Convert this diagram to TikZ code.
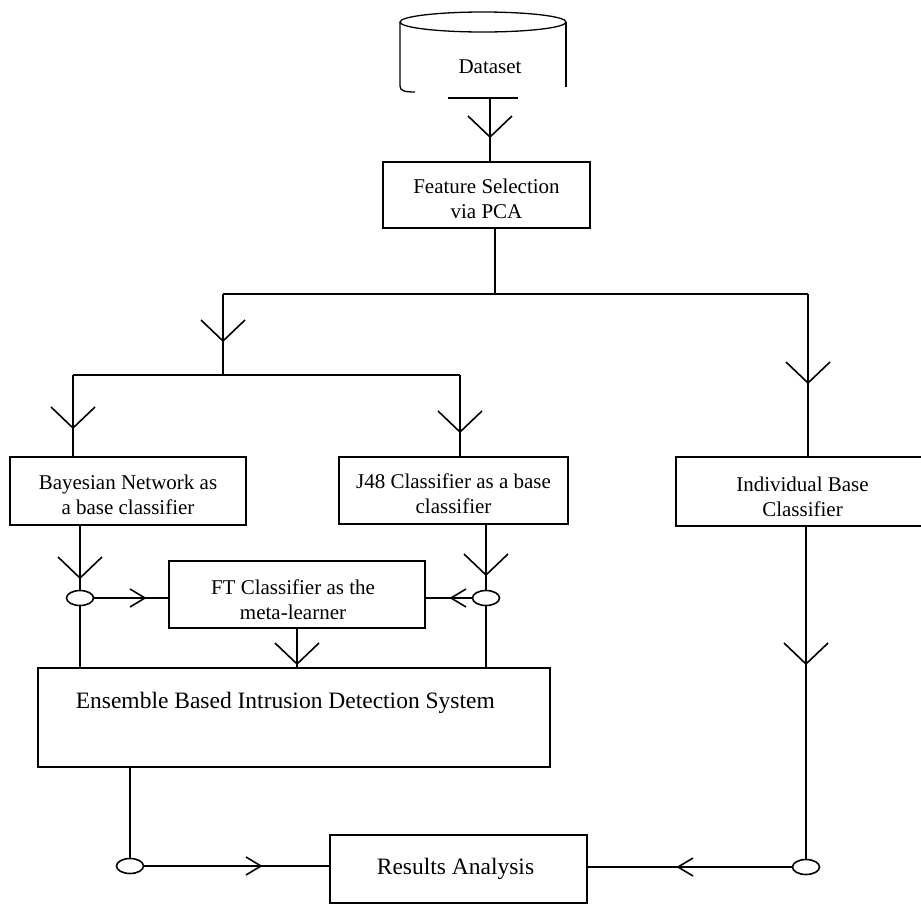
\documentclass[tikz,border=0pt]{standalone}
\usepackage{fontspec}
\setmainfont{Liberation Serif}
\usetikzlibrary{shapes.geometric}
\tikzset{
  box/.style={draw, rectangle, inner sep=0pt},
  txt/.style={inner sep=0pt, align=center, font=\fontsize{21}{25}\selectfont, yshift=-4pt},
  bigtxt/.style={inner sep=0pt, font=\fontsize{23.5}{28}\selectfont},
  oval/.style={draw, ellipse, minimum width=27pt, minimum height=15pt, inner sep=0pt},
  vdown/.pic={\draw (-22,-21) -- (0,0) -- (22,-21);},
  vright/.pic={\draw (-15,-9) -- (0,0) -- (-15,9);},
  vleft/.pic={\draw (15,-9) -- (0,0) -- (15,9);}
}
\begin{document}
\begin{tikzpicture}[x=1pt,y=-1pt,line width=1.6pt]
\useasboundingbox (0,0) rectangle (921,903);

% Dataset cylinder
\draw[line width=1.3pt] (483,22) ellipse [x radius=83, y radius=10];
\draw[line width=1.3pt] (400,22) -- (400,86) .. controls (400,91) and (405,92) .. (415,92);
\draw[line width=1.3pt] (566,22) -- (566,87);
\draw[line width=1.3pt] (448,98) -- (518,98);
\node[inner sep=0pt, font=\fontsize{21}{25}\selectfont] (ds) at (490,67) {Dataset};
\coordinate (dsb) at (490,98);

% boxes
\node[box, minimum width=207pt, minimum height=66pt, label={[txt]center:{Feature Selection\\via PCA}}] (fs) at (486.5,195) {};
\node[box, minimum width=236pt, minimum height=68pt, label={[txt]center:{Bayesian Network as\\a base classifier}}] (bn) at (128,491) {};
\node[box, minimum width=229pt, minimum height=67pt, label={[txt, yshift=1pt]center:{J48 Classifier as a base\\classifier}}] (j48) at (453.5,490.5) {};
\node[box, minimum width=259pt, minimum height=69pt, label={[txt, xshift=-3pt, yshift=-1pt]center:{Individual Base\\Classifier}}] (ind) at (805.5,491.5) {};
\node[box, minimum width=256pt, minimum height=67pt, label={[txt, xshift=-4pt, yshift=-1pt]center:{FT Classifier as the\\meta-learner}}] (ft) at (297,594.5) {};
\node[box, minimum width=512pt, minimum height=99pt] (ens) at (294,717.5) {};
\node[bigtxt, anchor=west] (enst) at (75,703) {Ensemble Based Intrusion Detection System};
\node[box, minimum width=257pt, minimum height=68pt, label={[bigtxt, xshift=-3pt]center:Results Analysis}] (res) at (458.5,869) {};

% junction ovals
\node[oval] (o1) at (80,598) {};
\node[oval] (o2) at (486,598) {};
\node[oval] (o3) at (130,866) {};
\node[oval] (o4) at (806,867) {};

% branching coordinates
\coordinate (j1) at (495,294);
\coordinate (L1) at (223,294);
\coordinate (R1) at (808,294);
\coordinate (L2) at (223,375);
\coordinate (L3) at (73,375);
\coordinate (R3) at (460,375);

% connectors
\draw (dsb) -- (dsb |- fs.north);
\pic at (490,137) {vdown};

\draw (j1 |- fs.south) -- (j1);
\draw (L1) -- (R1);
\draw (L1) -- (L2);
\pic at (223,341) {vdown};
\draw (L3) -- (R3);
\draw (L3) -- (L3 |- bn.north);
\pic at (73,428) {vdown};
\draw (R3) -- (R3 |- j48.north);
\pic at (460,432) {vdown};
\draw (R1) -- (R1 |- ind.north);
\pic at (808,383) {vdown};

\draw (o1 |- bn.south) -- (o1.north);
\pic at (80,578) {vdown};
\draw (o1.east) -- (o1 -| ft.west);
\pic at (145,598) {vright};
\draw (o1.south) -- (o1 |- ens.north);

\draw (o2 |- j48.south) -- (o2.north);
\pic at (486,575) {vdown};
\draw (o2.west) -- (o2 -| ft.east);
\pic at (451,598) {vleft};
\draw (o2.south) -- (o2 |- ens.north);

\draw (ft.south) -- (ft.south |- ens.north);
\pic at (297,664) {vdown};

\draw (o3 |- ens.south) -- (o3.north);
\draw (o3.east) -- (o3 -| res.west);
\pic at (261,866) {vright};

\draw (o4 |- ind.south) -- (o4.north);
\pic at (806,664) {vdown};
\draw (o4.west) -- (o4 -| res.east);
\pic at (678,867) {vleft};
\end{tikzpicture}
\end{document}
